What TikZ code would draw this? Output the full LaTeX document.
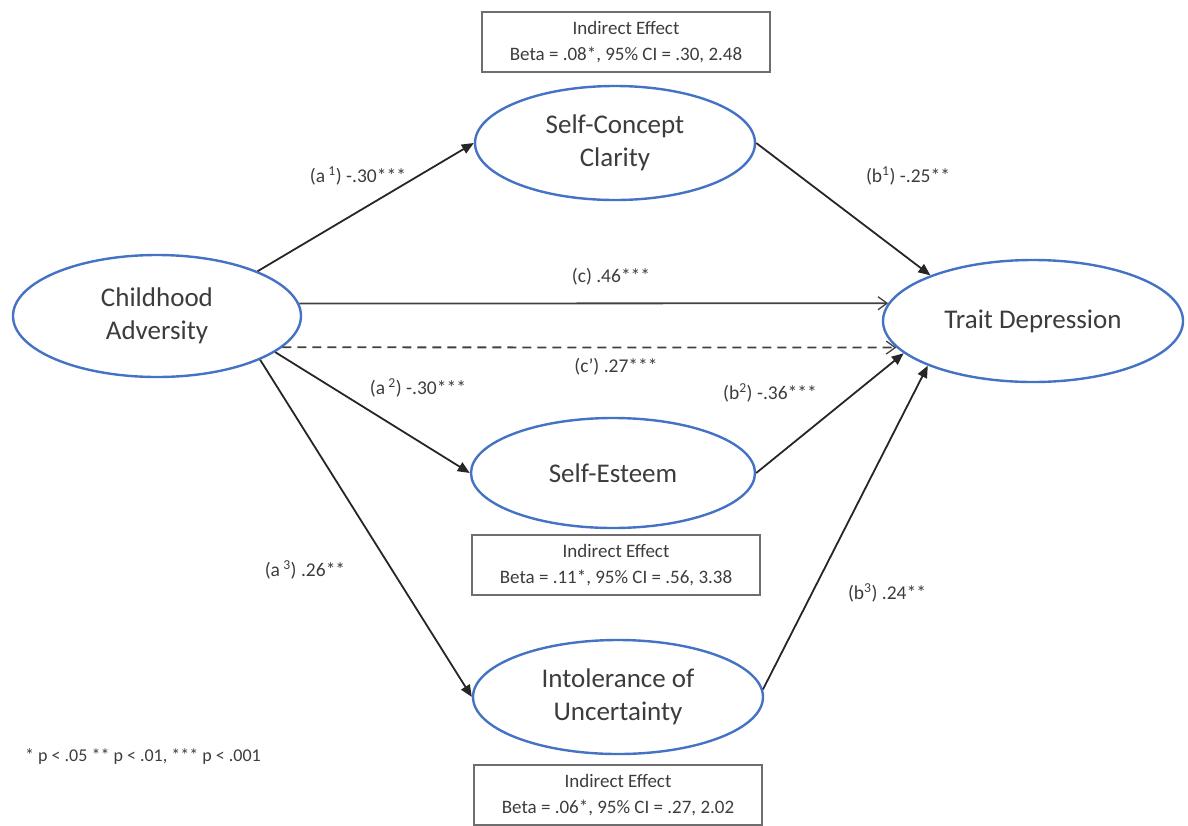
\documentclass[tikz,border=0pt]{standalone}
\usepackage{fontspec}
\setmainfont{Carlito}
\usetikzlibrary{shapes.geometric,arrows.meta}
\definecolor{ovalblue}{RGB}{68,114,196}
\definecolor{ink}{RGB}{60,60,60}
\definecolor{boxgray}{RGB}{110,110,110}
\begin{document}
\begin{tikzpicture}[x=1pt,y=-1pt,
  construct/.style={ellipse,draw=ovalblue,line width=2.4pt,inner sep=0pt,
    align=center,text=ink,font=\fontsize{27}{33}\selectfont},
  effectbox/.style={rectangle,draw=boxgray,line width=1.2pt,inner sep=0pt,
    minimum width=288pt,minimum height=60pt,align=center,text=ink,
    font=\fontsize{19}{26}\selectfont},
  pathlabel/.style={text=ink,inner sep=0pt,font=\fontsize{19.5}{22}\selectfont},
  solidpath/.style={draw=black!85,line width=1.8pt,-{Triangle[length=12pt,width=10pt]}},
  openpath/.style={draw=black!75,line width=1.8pt,-{Straight Barb[length=9pt,width=13pt,line width=1.3pt]}},
]
\useasboundingbox (0,0) rectangle (1188,825);

% constructs
\node[construct,minimum width=288pt,minimum height=122pt] (ca) at (157,316) {Childhood\\Adversity};
\node[construct,minimum width=280pt,minimum height=114pt] (scc) at (615,143) {Self-Concept\\Clarity};
\node[construct,minimum width=300pt,minimum height=122pt] (td) at (1033,321) {Trait Depression};
\node[construct,minimum width=284pt,minimum height=110pt] (se) at (613,473) {Self-Esteem};
\node[construct,minimum width=290pt,minimum height=114pt] (iu) at (618,697) {Intolerance of\\Uncertainty};

% indirect effect boxes
\node[effectbox] (ie1) at (626,42) {Indirect Effect\\Beta = .08*, 95\% CI = .30, 2.48};
\node[effectbox] (ie2) at (616,565) {Indirect Effect\\Beta = .11*, 95\% CI = .56, 3.38};
\node[effectbox] (ie3) at (618,795) {Indirect Effect\\Beta = .06*, 95\% CI = .27, 2.02};

% paths
\draw[solidpath] (ca.24) -- (scc.west);
\draw[solidpath] (scc.east) -- (td.156);
\draw[openpath] (ca.5.3) -- (td.173);
\draw[openpath,dash pattern=on 9pt off 6pt] (ca.-14.5) -- (td.191);
\draw[solidpath] (ca.-17.8) -- (se.west);
\draw[solidpath] (se.east) -- (td.194);
\draw[solidpath] (ca.-23.5) -- (iu.west);
\draw[solidpath] (iu.3) -- (td.203.5);

% coefficients
\node[pathlabel] (la1) at (358,176) {(a\,\textsuperscript{1}) -.30***};
\node[pathlabel] (lb1) at (908,176) {(b\textsuperscript{1}) -.25**};
\node[pathlabel] (lc) at (611,277) {(c) .46***};
\node[pathlabel] (lcp) at (616,367) {(c’) .27***};
\node[pathlabel] (la2) at (418,388) {(a\,\textsuperscript{2}) -.30***};
\node[pathlabel] (lb2) at (770,393) {(b\textsuperscript{2}) -.36***};
\node[pathlabel] (la3) at (305,570) {(a\,\textsuperscript{3}) .26**};
\node[pathlabel] (lb3) at (887,593) {(b\textsuperscript{3}) .24**};

% significance note
\node[text=ink,inner sep=0pt,font=\fontsize{18}{20}\selectfont] (note) at (143,757)
  {* p < .05 ** p < .01, *** p < .001};
\end{tikzpicture}
\end{document}
